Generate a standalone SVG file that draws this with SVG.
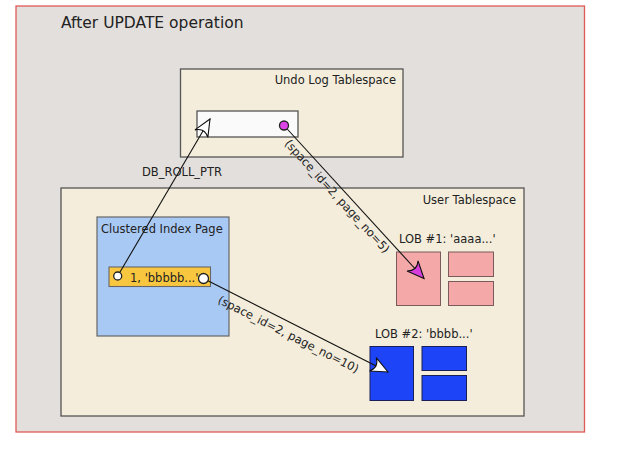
<svg xmlns="http://www.w3.org/2000/svg" width="624" height="452" viewBox="0 0 624 452">
<style>
text{font-family:"DejaVu Sans","Liberation Sans",sans-serif;fill:#222;font-size:11.5px}
.space{fill:#f4eddb;stroke:#555;stroke-width:1.3}
.pink{fill:#f4a9a8;stroke:#7a5a5a;stroke-width:1}
.blue{fill:#1e44f8;stroke:#1a1f55;stroke-width:1}
.conn{fill:none;stroke:#111;stroke-width:1.1}
.port{stroke:#222;stroke-width:1.3}
</style>
<defs>
<marker id="ahw" markerUnits="userSpaceOnUse" markerWidth="22" markerHeight="18" viewBox="-19 -9 22 18" refX="0" refY="0" orient="auto">
<path d="M0,0 L-17,-7.5 Q-10,0 -17,7.5 Z" fill="#fff" stroke="#111" stroke-width="1.1" stroke-linejoin="miter"/>
</marker>
<marker id="ahm" markerUnits="userSpaceOnUse" markerWidth="22" markerHeight="18" viewBox="-19 -9 22 18" refX="0" refY="0" orient="auto">
<path d="M0,0 L-17,-7.5 Q-10,0 -17,7.5 Z" fill="#d63ddc" stroke="#111" stroke-width="1.1" stroke-linejoin="miter"/>
</marker>
</defs>
<rect width="624" height="452" fill="#fff"/>
<g id="frame">
<rect x="16" y="6" width="568.5" height="426" fill="#e2dfdc" stroke="#e05a5a" stroke-width="1.3"/>
<text x="61" y="28" style="font-size:15.5px">After UPDATE operation</text>
</g>
<g id="undo-log">
<rect class="space" x="180.5" y="69" width="222.5" height="88"/>
<text x="396" y="84" text-anchor="end">Undo Log Tablespace</text>
</g>
<g id="undo-record">
<rect x="197" y="111" width="101" height="26" fill="#fafafa" stroke="#555" stroke-width="1.3"/>
</g>
<g id="user-tablespace">
<rect class="space" x="61" y="188" width="463" height="228"/>
<text x="516" y="204" text-anchor="end">User Tablespace</text>
</g>
<g id="clustered-index">
<rect x="97" y="217" width="132" height="119" fill="#a9c9f5" stroke="#666" stroke-width="1.2"/>
<text x="101" y="233">Clustered Index Page</text>
</g>
<g id="index-record">
<rect x="109" y="267" width="101.5" height="19.5" fill="#f9c73f" stroke="#666" stroke-width="1.1"/>
<text x="130" y="281.5">1, 'bbbbb...'</text>
</g>
<g id="lob1">
<text x="399" y="243">LOB #1: 'aaaa...'</text>
<rect class="pink" x="396.5" y="252" width="44" height="53.5"/>
<rect class="pink" x="448.5" y="252" width="45" height="24.5"/>
<rect class="pink" x="448.5" y="281.5" width="45" height="24"/>
</g>
<g id="lob2">
<text x="375" y="338">LOB #2: 'bbbb...'</text>
<rect class="blue" x="370" y="346.5" width="43.5" height="54"/>
<rect class="blue" x="422" y="346.5" width="44.5" height="24"/>
<rect class="blue" x="422" y="375.5" width="44.5" height="25"/>
</g>
<g id="connectors">
<line class="conn" x1="117.7" y1="276" x2="210" y2="119" marker-end="url(#ahw)"/>
<text x="142" y="176">DB_ROLL_PTR</text>
<line class="conn" x1="284" y1="125.5" x2="424" y2="278.5" marker-end="url(#ahm)"/>
<text transform="translate(284,144) rotate(47.5)">(space_id=2, page_no=5)</text>
<line class="conn" x1="203.5" y1="278.5" x2="388" y2="372" marker-end="url(#ahw)"/>
<text transform="translate(217,302.5) rotate(26.9)">(space_id=2, page_no=10)</text>
</g>
<g id="ports">
<circle class="port" cx="284" cy="125.5" r="4.5" fill="#dd44e8"/>
<circle class="port" cx="117.7" cy="276" r="4" fill="#fff"/>
<circle class="port" cx="203.5" cy="278.5" r="5" fill="#fff"/>
</g>
</svg>
